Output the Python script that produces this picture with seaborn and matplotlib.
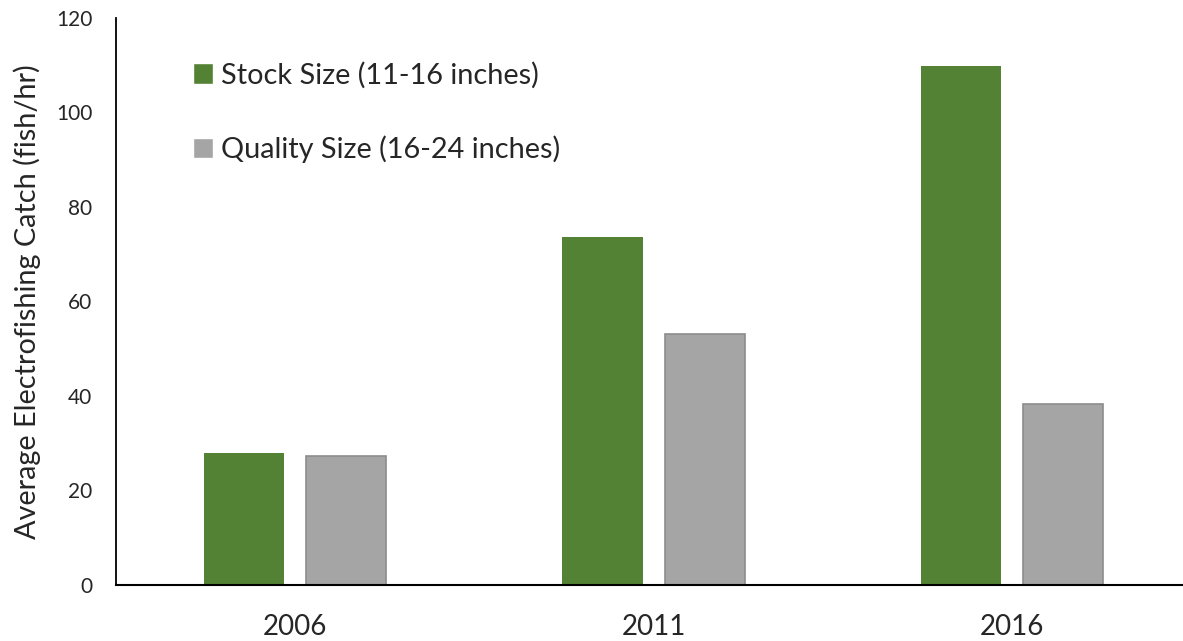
import pandas as pd
import seaborn as sns
import matplotlib.pyplot as plt

# valores
anos = ['2006', '2011', '2016']
stock = [27.9, 73.7, 109.8]
quality = [27.3, 53.1, 38.3]
series = ['Stock Size (11-16 inches)', 'Quality Size (16-24 inches)']

df = pd.DataFrame({
    'ano': anos * 2,
    'serie': [series[0]] * 3 + [series[1]] * 3,
    'valor': stock + quality,
})

sns.set_style('white')
plt.rcParams['font.family'] = ['Lato', 'DejaVu Sans']

fig = plt.figure(figsize=(11.83, 6.41), dpi=100)
ax = fig.add_axes([0.098, 0.0874, 0.909, 0.8846])

sns.barplot(data=df, x='ano', y='valor', hue='serie', ax=ax,
            palette=['#548235', '#A5A5A5'], width=0.57, gap=0.216,
            saturation=1, errorbar=None)

# borda cinza escura nas barras cinzas
for bar in ax.containers[1]:
    bar.set_edgecolor('#8C8C8C')
    bar.set_linewidth(1.2)
for bar in ax.containers[0]:
    bar.set_linewidth(0)

ax.set_ylim(0, 120)
ax.set_yticks(range(0, 121, 20))
ax.set_xlim(-0.5, 2.5)
ax.set_xlabel('')
ax.set_ylabel('Average Electrofishing Catch (fish/hr)', fontsize=20.8, labelpad=11)
ax.tick_params(axis='y', labelsize=15, length=0, pad=17)
ax.tick_params(axis='x', labelsize=20, length=0, pad=21)

for s in ['top', 'right']:
    ax.spines[s].set_visible(False)
ax.spines['left'].set_color('black')
ax.spines['bottom'].set_color('black')
ax.spines['left'].set_linewidth(1.3)
ax.spines['bottom'].set_linewidth(1.5)

leg = ax.legend(loc='upper left', bbox_to_anchor=(0.0605, 0.943), frameon=False,
                fontsize=20.8, handlelength=0.7, handleheight=0.7,
                handletextpad=0.3, labelspacing=1.62, borderaxespad=0)

plt.savefig('out.png', dpi=100)
